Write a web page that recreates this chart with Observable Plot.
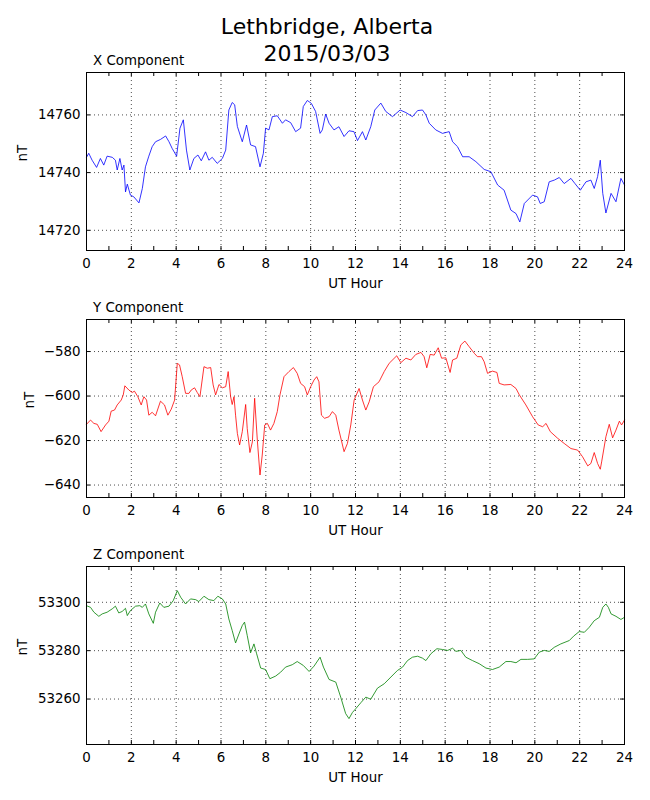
<!DOCTYPE html>
<html>
<head>
<meta charset="utf-8">
<script src="https://cdn.jsdelivr.net/npm/d3@7"></script>
<script src="https://cdn.jsdelivr.net/npm/@observablehq/plot@0.6"></script>
<style>
  html, body { margin: 0; padding: 0; background: white; }
  #wrap { position: relative; width: 650px; height: 800px; font-family: "DejaVu Sans", sans-serif; }
  #title { position: absolute; left: 2px; top: 13px; width: 650px; text-align: center; font-size: 22px; line-height: 27px; color: black; z-index: 10; }
  .panel { position: absolute; left: 0; z-index: 1; }
</style>
</head>
<body>
<div id="wrap">
  <div id="title">Lethbridge, Alberta<br>2015/03/03</div>
</div>
<script>
// ---- data ----
const xTickLabels = [0, 2, 4, 6, 8, 10, 12, 14, 16, 18, 20, 22, 24];
const hourMarks = [1,2,3,4,5,6,7,8,9,10,11,12,13,14,15,16,17,18,19,20,21,22,23];
const gridHours = [2,4,6,8,10,12,14,16,18,20,22];

const xCompHours = [0,0.10,0.25,0.45,0.62,0.77,0.92,1.15,1.29,1.37,1.49,1.59,1.67,1.74,1.82,1.96,2.11,2.34,2.49,2.63,2.78,2.93,3.08,3.30,3.53,3.68,3.82,4.02,4.17,4.32,4.46,4.61,4.79,4.97,5.12,5.31,5.46,5.61,5.83,6.06,6.21,6.35,6.50,6.61,6.73,6.95,7.14,7.32,7.54,7.74,7.89,7.99,8.14,8.29,8.51,8.74,8.88,9.11,9.33,9.55,9.67,9.85,10.03,10.22,10.42,10.52,10.67,10.82,11.04,11.26,11.49,11.71,11.93,12.09,12.31,12.46,12.68,12.86,13.13,13.35,13.65,13.99,14.25,14.54,14.77,14.99,15.14,15.29,15.58,15.88,16.18,16.33,16.55,16.78,17.07,17.37,17.74,18.04,18.34,18.63,18.93,19.16,19.33,19.53,19.90,20.12,20.24,20.42,20.64,20.87,21.09,21.31,21.61,21.79,22.03,22.28,22.50,22.65,22.80,22.92,23.03,23.17,23.40,23.62,23.84,24.00];
const xCompValues = [14745.3,14746.7,14744.3,14741.8,14744.9,14742.6,14745.7,14745.3,14744.3,14740.9,14744.9,14740.9,14742.6,14733.3,14736.0,14732.2,14731.6,14729.5,14734.5,14742.0,14745.7,14749.0,14750.7,14751.5,14752.7,14750.7,14748.4,14745.7,14755.4,14758.3,14747.8,14740.9,14744.9,14746.1,14744.1,14747.2,14744.3,14745.3,14743.2,14744.9,14747.8,14761.7,14764.3,14763.5,14756.0,14750.7,14756.5,14749.6,14749.0,14742.0,14746.7,14755.4,14754.8,14759.4,14759.7,14757.1,14758.3,14757.3,14754.2,14755.4,14762.9,14765.0,14764.0,14761.2,14753.6,14754.8,14760.3,14757.1,14754.8,14755.9,14752.5,14754.5,14754.2,14751.1,14754.2,14751.3,14755.9,14761.7,14764.1,14761.2,14759.4,14761.7,14760.8,14759.4,14761.5,14761.7,14760.0,14757.1,14754.8,14753.6,14754.2,14750.7,14749.0,14745.5,14745.5,14743.8,14741.1,14740.3,14735.7,14733.9,14727.0,14725.8,14722.9,14729.3,14732.2,14731.6,14729.3,14729.9,14736.8,14737.4,14738.3,14736.2,14738.0,14736.2,14733.9,14736.8,14737.4,14734.5,14738.6,14744.3,14732.8,14726.0,14732.8,14729.9,14738.0,14735.7];
const xCompTicks = [14720, 14740, 14760];
const xCompDomain = [14713, 14774.7];

const yCompHours = [0,0.18,0.33,0.48,0.65,0.85,1.00,1.10,1.25,1.37,1.55,1.64,1.71,1.89,2.04,2.14,2.29,2.44,2.56,2.68,2.78,2.93,3.08,3.30,3.48,3.63,3.78,3.93,4.05,4.15,4.27,4.42,4.57,4.67,4.82,4.94,5.06,5.24,5.39,5.54,5.65,5.76,5.91,6.06,6.21,6.32,6.43,6.50,6.58,6.65,6.73,6.83,6.95,7.10,7.17,7.29,7.40,7.50,7.62,7.74,7.84,7.95,8.07,8.21,8.36,8.51,8.63,8.81,9.03,9.23,9.40,9.55,9.73,9.85,10.00,10.15,10.27,10.37,10.48,10.62,10.82,10.97,11.12,11.26,11.49,11.64,11.79,11.94,12.16,12.31,12.46,12.61,12.80,13.05,13.28,13.50,13.84,14.02,14.25,14.47,14.69,14.92,15.06,15.18,15.33,15.51,15.69,15.84,16.03,16.22,16.33,16.52,16.70,16.88,17.07,17.30,17.44,17.62,17.74,17.89,18.11,18.31,18.41,18.63,18.93,19.16,19.31,19.60,19.90,20.15,20.35,20.50,20.69,21.02,21.31,21.61,21.91,22.13,22.36,22.50,22.65,22.80,22.92,22.98,23.17,23.32,23.47,23.62,23.77,23.87,24.00];
const yCompValues = [-612.7,-610.8,-612.3,-612.7,-616.0,-613.0,-611.3,-606.8,-606.3,-604.0,-601.8,-599.5,-595.4,-597.3,-598.4,-597.8,-600.3,-604.0,-600.3,-601.8,-608.6,-607.3,-608.9,-602.3,-604.0,-608.6,-605.9,-601.8,-585.3,-586.0,-591.3,-598.8,-598.8,-597.3,-596.3,-598.4,-600.3,-586.8,-587.5,-587.2,-595.0,-599.5,-594.8,-596.3,-595.8,-589.0,-600.3,-603.8,-600.3,-608.6,-616.8,-622.0,-616.0,-603.8,-614.6,-625.4,-620.6,-601.0,-619.8,-635.5,-626.5,-613.0,-612.3,-615.3,-612.3,-607.0,-599.5,-591.3,-589.0,-587.2,-589.8,-594.3,-595.8,-599.5,-595.8,-592.8,-591.3,-593.6,-608.6,-610.0,-609.3,-607.0,-608.6,-615.3,-625.0,-621.3,-613.0,-601.8,-596.6,-601.8,-606.3,-602.6,-595.8,-593.6,-589.0,-585.3,-581.9,-585.0,-583.0,-583.8,-581.3,-580.4,-582.3,-587.3,-581.3,-581.6,-578.3,-583.0,-582.8,-589.4,-583.8,-583.0,-577.0,-575.3,-577.8,-580.8,-582.3,-582.3,-584.6,-589.8,-588.8,-589.4,-594.3,-595.0,-594.8,-596.6,-599.5,-604.0,-609.3,-613.0,-613.8,-612.3,-616.0,-619.0,-621.3,-623.6,-624.3,-627.3,-631.4,-630.3,-625.4,-630.3,-632.9,-629.6,-618.3,-612.7,-618.8,-615.3,-611.3,-613.0,-610.8];
const yCompTicks = [-640, -620, -600, -580];
const yCompDomain = [-645.6, -565.6];

const zCompHours = [0,0.18,0.33,0.55,0.70,0.92,1.15,1.29,1.44,1.59,1.74,1.82,1.96,2.19,2.38,2.49,2.63,2.78,2.98,3.08,3.27,3.45,3.68,3.87,4.05,4.20,4.42,4.64,4.87,5.01,5.24,5.46,5.68,5.86,6.06,6.21,6.35,6.50,6.65,6.80,6.95,7.05,7.17,7.32,7.47,7.59,7.77,7.99,8.18,8.44,8.66,8.88,9.18,9.40,9.67,9.93,10.15,10.42,10.57,10.82,11.12,11.34,11.56,11.71,11.86,12.01,12.24,12.46,12.68,12.98,13.28,13.58,13.87,14.10,14.32,14.54,14.77,14.99,15.14,15.36,15.63,15.88,16.11,16.33,16.48,16.70,16.92,17.22,17.52,17.82,18.11,18.41,18.71,18.93,19.16,19.38,19.68,19.97,20.20,20.42,20.64,20.87,21.16,21.54,21.73,21.98,22.21,22.43,22.65,22.88,23.03,23.17,23.28,23.40,23.62,23.84,24.00];
const zCompValues = [53298.6,53297.9,53295.9,53294.2,53295.2,53295.9,53297.3,53298.4,53295.6,53296.2,53297.5,53294.5,53296.6,53298.4,53298.6,53297.9,53299.3,53295.2,53291.3,53295.9,53299.7,53297.9,53298.4,53300.7,53304.8,53302.1,53299.3,53301.4,53301.1,53300.3,53302.5,53301.1,53300.7,53302.5,53301.4,53299.3,53293.1,53288.3,53283.2,53286.9,53290.4,53291.8,53286.3,53279.1,53282.8,53278.7,53272.8,53272.2,53268.4,53269.5,53271.1,53273.2,53274.2,53275.5,53273.9,53271.4,53273.6,53277.3,53273.2,53268.1,53267.0,53260.8,53254.0,53251.9,53254.4,53256.0,53258.5,53260.8,53259.9,53264.5,53266.3,53269.1,53271.8,53273.2,53275.9,53277.3,53277.7,53276.9,53275.9,53278.7,53280.8,53280.5,53280.1,53281.0,53279.7,53280.1,53277.3,53275.9,53274.6,53272.8,53272.2,53273.2,53275.5,53275.5,53275.0,53276.4,53276.4,53276.6,53279.4,53280.1,53279.7,53281.4,53282.8,53284.2,53286.0,53287.9,53287.6,53289.7,53292.4,53293.8,53297.9,53299.3,53297.9,53295.2,53294.2,53292.9,53293.8];
const zCompTicks = [53260, 53280, 53300];
const zCompDomain = [53241.2, 53314.8];

// ---- drawing ----
const W = 650, H = 247, ML = 86, MR = 26, MT = 25, MB = 44;
const innerW = W - ML - MR, innerH = H - MT - MB;
const FS = 13.4;
const fmt = d3.format("d");
const gridStyle = {stroke: "black", strokeOpacity: 1, strokeWidth: 0.7, strokeDasharray: "1,3"};

function panel(hours, values, color, domain, ticks, title, top, nTdx) {
  const idx = d3.range(hours.length);
  const chart = Plot.plot({
    width: W, height: H,
    marginLeft: ML, marginRight: MR, marginTop: MT, marginBottom: MB,
    style: {fontFamily: "DejaVu Sans", fontSize: FS + "px", color: "black", background: "transparent", overflow: "visible"},
    x: {domain: [0, 24], ticks: xTickLabels, tickFormat: fmt, tickSize: 0, tickPadding: 8, label: null},
    y: {domain, ticks, tickFormat: fmt, tickSize: 0, tickPadding: 6, label: null},
    marks: [
      Plot.gridX(gridHours, gridStyle),
      Plot.gridY(ticks, gridStyle),
      Plot.line(idx, {x: i => hours[i], y: i => values[i], stroke: color, strokeWidth: 0.8}),
      Plot.tickX(hourMarks, {x: d => d, insetTop: innerH - 4, stroke: "black"}),
      Plot.tickX(hourMarks, {x: d => d, insetBottom: innerH - 4, stroke: "black"}),
      Plot.tickY(ticks, {y: d => d, insetRight: innerW - 4, stroke: "black"}),
      Plot.tickY(ticks, {y: d => d, insetLeft: innerW - 4, stroke: "black"}),
      Plot.frame({stroke: "black", strokeWidth: 1}),
      Plot.text([title], {text: d => d, frameAnchor: "top-left", textAnchor: "start", lineAnchor: "bottom", dx: 6.5, dy: -8}),
      Plot.text(["UT Hour"], {text: d => d, frameAnchor: "bottom", dy: 37}),
      Plot.text(["nT"], {text: d => d, frameAnchor: "left", rotate: -90, dx: -nTdx})
    ]
  });
  chart.classList.add("panel");
  chart.style.top = top + "px";
  document.getElementById("wrap").appendChild(chart);
}

panel(xCompHours, xCompValues, "#0000ff", xCompDomain, xCompTicks, "X Component", 47, 63.5);
panel(yCompHours, yCompValues, "#ff0000", yCompDomain, yCompTicks, "Y Component", 294, 57);
panel(zCompHours, zCompValues, "#008000", zCompDomain, zCompTicks, "Z Component", 541, 64);
</script>
</body>
</html>
